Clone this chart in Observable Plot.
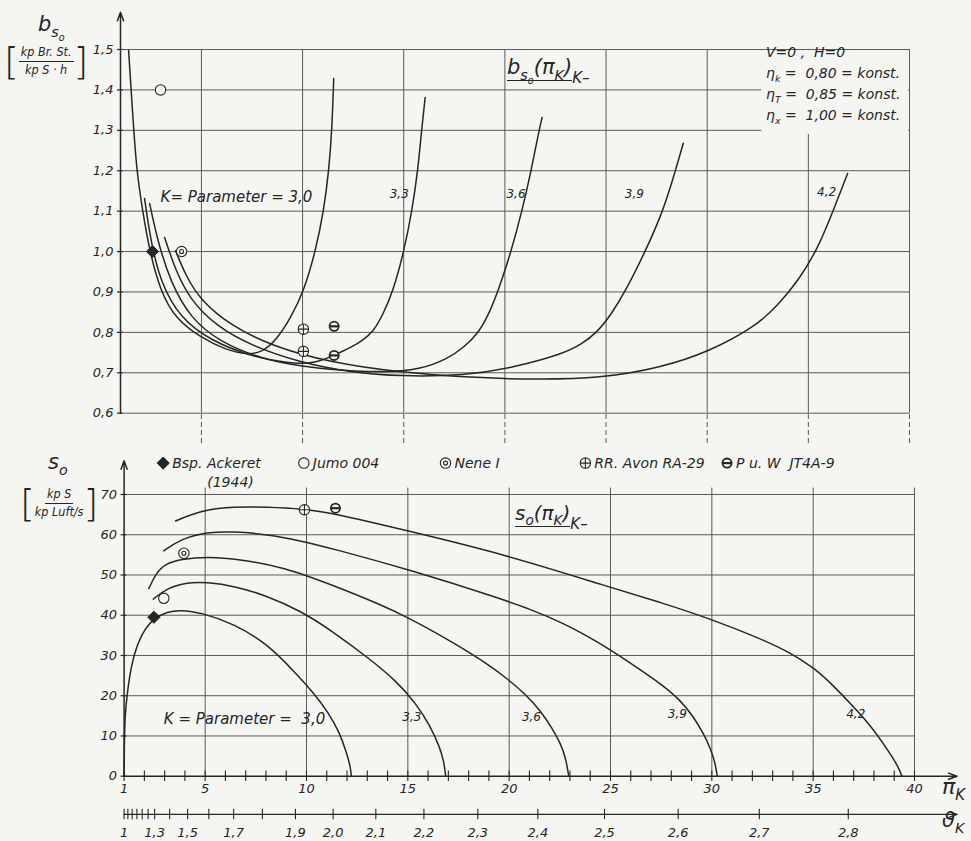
<!DOCTYPE html>
<html lang="de">
<head>
<meta charset="utf-8">
<title>b_so und S_o über π_K</title>
<script src="https://cdn.jsdelivr.net/npm/d3@7"></script>
<script src="https://cdn.jsdelivr.net/npm/@observablehq/plot@0.6"></script>
<style>
  html, body { margin:0; padding:0; background:#f5f5f2; }
  #wrap { position:relative; width:971px; height:841px; overflow:hidden;
          font-family:"DejaVu Sans","Liberation Sans",sans-serif; font-style:oblique; color:#262626; }
  #top, #bot { position:absolute; left:0; }
  #top { top:0; } #bot { top:450px; }
  .t { position:absolute; white-space:nowrap; line-height:1; }
  .t sub { font-size:68%; vertical-align:-0.4em; line-height:0; }
  .frac { display:flex; align-items:center; }
  .br { font-size:38px; font-weight:200; font-style:normal; }
  .fr { display:inline-flex; flex-direction:column; align-items:center; font-size:12.5px; font-stretch:condensed; }
  .fr .n { border-bottom:1.3px solid #262626; padding:0 2px 2px; }
  .fr .d { padding-top:2px; }
  .ul { border-bottom:1.3px solid #262626; padding-bottom:1px; }
  .blk div { height:21px; font-size:14px; }
</style>
</head>
<body>
<div id="wrap">
  <div id="top"></div>
  <div id="bot"></div>

  <div class="t" style="left:38px;top:14px;font-size:21px">b<sub>s<sub>o</sub></sub></div>
  <div class="t frac" style="left:4px;top:42px"><span class="br">[</span><span class="fr"><span class="n">kp Br. St.</span><span class="d">kp S · h</span></span><span class="br">]</span></div>

  <div class="t" style="left:48px;top:452px;font-size:21px">s<sub>o</sub></div>
  <div class="t frac" style="left:20px;top:484px"><span class="br">[</span><span class="fr"><span class="n">kp S</span><span class="d">kp Luft/s</span></span><span class="br">]</span></div>

  <div class="t" style="left:507px;top:57px;font-size:21px"><span class="ul">b<sub>s<sub>o</sub></sub>(π<sub>K</sub>)</span><span style="font-size:15px;position:relative;top:9px">K–</span></div>
  <div class="t" style="left:515px;top:503px;font-size:20px"><span class="ul">s<sub>o</sub>(π<sub>K</sub>)</span><span style="font-size:15px;position:relative;top:9px">K–</span></div>

  <div class="t blk" style="left:766px;top:45px">
    <div>V=0 ,&nbsp; H=0</div>
    <div>η<sub>k</sub> =&nbsp; 0,80 = konst.</div>
    <div>η<sub>T</sub> =&nbsp; 0,85 = konst.</div>
    <div>η<sub>x</sub> =&nbsp; 1,00 = konst.</div>
  </div>

  <div class="t" style="left:942px;top:776px;font-size:22px">π<sub>K</sub></div>
  <div class="t" style="left:942px;top:810px;font-size:21px">ϑ<sub>K</sub></div>
</div>

<script>
// ================= DATA =================
const kValues = [3.0, 3.3, 3.6, 3.9, 4.2];
const kLabels = ["3,0", "3,3", "3,6", "3,9", "4,2"];

// specific fuel consumption b_so [kp Br.St./(kp S·h)] over pressure ratio π_K, one list per K
const bs30 = [[1.40,1.498],[1.59,1.349],[1.79,1.201],[2.09,1.102],[2.44,1.000],[2.98,0.901],[3.72,0.834],[4.96,0.787],[6.20,0.757],[7.30,0.744],[8.03,0.752],[8.72,0.782],[9.42,0.837],[10.06,0.901],[10.65,1.003],[11.05,1.102],[11.30,1.201],[11.45,1.300],[11.54,1.428]];
const bs33 = [[2.19,1.131],[2.49,1.027],[2.98,0.923],[3.97,0.834],[5.46,0.780],[7.44,0.740],[9.42,0.722],[10.65,0.724],[11.54,0.743],[12.39,0.763],[12.93,0.779],[13.48,0.800],[13.97,0.844],[14.47,0.901],[15.01,1.000],[15.41,1.101],[15.70,1.201],[15.88,1.300],[16.06,1.381]];
const bs36 = [[2.44,1.119],[2.83,1.027],[3.48,0.923],[4.47,0.834],[5.95,0.775],[7.93,0.735],[9.91,0.716],[11.89,0.706],[13.87,0.701],[15.85,0.708],[17.17,0.735],[17.98,0.763],[18.72,0.800],[19.22,0.847],[19.66,0.901],[20.31,1.000],[20.85,1.101],[21.30,1.200],[21.69,1.300],[21.84,1.332]];
const bs39 = [[3.18,1.035],[3.72,0.953],[4.47,0.879],[5.70,0.817],[7.44,0.767],[9.91,0.725],[12.39,0.701],[14.86,0.691],[17.98,0.693],[20.46,0.713],[22.93,0.748],[23.77,0.770],[24.56,0.800],[25.26,0.845],[25.95,0.901],[26.94,1.000],[27.83,1.101],[28.43,1.200],[28.82,1.268]];
const bs42 = [[3.72,1.002],[4.22,0.941],[4.96,0.879],[6.45,0.817],[8.43,0.767],[11.40,0.725],[14.86,0.701],[17.98,0.689],[21.30,0.683],[24.76,0.686],[27.73,0.713],[30.04,0.751],[32.35,0.813],[33.48,0.866],[34.51,0.928],[35.50,1.010],[36.29,1.109],[36.94,1.193]];
const bsSeries = [bs30, bs33, bs36, bs39, bs42];

// specific thrust S_o [kp S/(kp Luft/s)] over π_K, one list per K
const so30 = [[1.0,0],[1.01,8],[1.05,15.5],[1.15,20.4],[1.35,27.5],[1.65,32.9],[2.06,36.9],[2.47,39.1],[3.13,40.9],[3.79,41.3],[4.78,40.7],[6.41,37.9],[8.06,32.9],[9.36,26.2],[10.34,20.8],[11.08,15.8],[11.63,10.9],[11.97,5.9],[12.17,2.4],[12.21,0]];
const so33 = [[2.44,44.0],[3.13,46.8],[4.11,48.2],[5.10,48.2],[6.41,47.3],[8.06,44.8],[9.70,41.1],[11.18,36.4],[13.16,29.0],[14.39,23.8],[15.38,18.3],[16.12,12.3],[16.56,7.4],[16.78,3.7],[16.87,0]];
const so36 = [[2.22,46.6],[2.55,50.3],[3.04,52.8],[3.78,53.9],[5.10,54.6],[6.74,53.9],[8.88,51.9],[11.18,47.7],[14.78,40.4],[17.74,31.7],[18.82,28.2],[19.90,24.3],[20.82,20.3],[21.54,16.3],[22.10,12.1],[22.54,8.1],[22.80,4.4],[22.94,0]];
const so39 = [[2.96,56.0],[3.78,58.9],[5.10,60.7],[6.41,60.8],[8.06,60.1],[9.70,58.5],[11.18,56.7],[15.29,51.0],[19.41,44.4],[21.05,41.5],[22.69,38.0],[24.01,34.4],[25.00,31.4],[26.48,26.4],[27.47,23.0],[28.45,18.9],[29.09,14.8],[29.60,10.5],[29.93,6.9],[30.15,3.6],[30.27,0]];
const so42 = [[3.54,63.4],[4.77,66.1],[6.41,67.0],[8.06,66.9],[9.87,66.4],[11.18,65.5],[14.97,61.0],[19.73,55.2],[25.00,46.9],[27.47,43.2],[29.93,39.1],[32.40,34.2],[33.88,30.7],[35.03,26.9],[35.69,24.1],[37.33,15.5],[37.92,11.9],[38.48,8.0],[38.91,4.7],[39.20,2.3],[39.38,0]];
const soSeries = [so30, so33, so36, so39, so42];

// engines (marker) data
const engines = ["Bsp. Ackeret", "Jumo 004", "Nene I", "RR. Avon RA-29", "P u. W  JT4A-9"];
const engineKeys = ["ack", "jumo", "nene", "avon", "pw"];
const engineYear = "(1944)";
const enginesTop = [["ack",2.58,1.000],["jumo",2.98,1.400],["nene",4.02,1.000],["avon",10.04,0.808],["avon",10.04,0.753],["pw",11.56,0.815],["pw",11.56,0.743]];
const enginesBot = [["ack",2.47,39.5],["jumo",2.96,44.2],["nene",3.95,55.4],["avon",9.90,66.2],["pw",11.43,66.6]];

// axes / ticks
const bTicks = [0.6,0.7,0.8,0.9,1.0,1.1,1.2,1.3,1.4,1.5];
const soTicks = [0,10,20,30,40,50,60,70];
const piGrid = [5,10,15,20,25,30,35,40];
const piLabels = [1,5,10,15,20,25,30,35,40];
const piMinor = d3.range(1, 41);
const thetaTicks = [1.0,1.05,1.1,1.15,1.2,1.25,1.3,1.4,1.5,1.6,1.7,1.8,1.9,2.0,2.1,2.2,2.3,2.4,2.5,2.6,2.7,2.8];
const thetaLabels = [1.0,1.3,1.5,1.7,1.9,2.0,2.1,2.2,2.3,2.4,2.5,2.6,2.7,2.8];
const kappaExp = 3.5;        // π_K = ϑ_K^(κ/(κ-1)), κ = 1,4

// ================= LAYOUT (positions of annotations) =================
const kParamText = "K= Parameter = 3,0";
const topKPos  = [[2.98,1.135],[14.78,1.143],[20.55,1.143],[26.4,1.143],[35.9,1.147]];
const botKPos  = [[2.96,14.2],[15.2,14.6],[21.1,14.6],[28.3,15.5],[37.1,15.5]];
const legendPi = [2.93, 9.87, 16.86, 23.76, 30.75];
const legendS = 77.8, yearS = 73.0, yearPi = 6.25;

// ================= STYLE =================
const INK = "#262626", GRIDC = "#5a5a5a", BG = "#f5f5f2";
const FONT = "'DejaVu Sans','Liberation Sans',sans-serif";
const dec1 = d => d.toFixed(1).replace(".", ",");
const decT = d => (d === 1 ? "1" : d.toFixed(1)).replace(".", ",");

const plusSym = {draw(ctx, size) { const r = Math.sqrt(size / Math.PI); ctx.moveTo(-r, 0); ctx.lineTo(r, 0); ctx.moveTo(0, -r); ctx.lineTo(0, r); }};
const barSym  = {draw(ctx, size) { const r = Math.sqrt(size / Math.PI); ctx.moveTo(-r, 0); ctx.lineTo(r, 0); }};

function markerMarks(rows) {
  const pick = k => rows.filter(d => d.key === k);
  const o = {x: "x", y: "y"};
  return [
    Plot.dot(pick("ack"),  {...o, symbol: "diamond2", r: 5.5, fill: INK, stroke: INK, strokeWidth: 1}),
    Plot.dot(pick("jumo"), {...o, r: 5.2, fill: BG, stroke: INK, strokeWidth: 1.1}),
    Plot.dot(pick("nene"), {...o, r: 5.2, fill: BG, stroke: INK, strokeWidth: 1.1}),
    Plot.dot(pick("nene"), {...o, r: 2.0, fill: "none", stroke: INK, strokeWidth: 1.1}),
    Plot.dot(pick("avon"), {...o, r: 5.2, fill: BG, stroke: INK, strokeWidth: 1.1}),
    Plot.dot(pick("avon"), {...o, r: 5.2, symbol: plusSym, fill: "none", stroke: INK, strokeWidth: 1.1}),
    Plot.dot(pick("pw"),   {...o, r: 4.6, fill: BG, stroke: INK, strokeWidth: 1.8}),
    Plot.dot(pick("pw"),   {...o, r: 4.6, symbol: barSym, fill: "none", stroke: INK, strokeWidth: 2.2})
  ];
}

const curveRows = series => series.flatMap((pts, i) => pts.map(([x, y]) => ({k: kValues[i], x, y})));
const styleObj = {background: "transparent", fontFamily: FONT, fontStyle: "oblique", fontSize: "13px", color: INK, overflow: "visible"};

// ================= TOP PLOT =================
const topPlot = Plot.plot({
  width: 971, height: 450,
  marginLeft: 120, marginRight: 62, marginTop: 49, marginBottom: 37.3,
  x: {domain: [1, 40], axis: null},
  y: {domain: [0.6, 1.5], axis: null},
  style: styleObj,
  marks: [
    Plot.ruleY(bTicks, {x1: 1, x2: 40, stroke: GRIDC, strokeWidth: 1}),
    Plot.ruleX(piGrid, {y1: 0.6, y2: 1.5, stroke: GRIDC, strokeWidth: 1}),
    Plot.ruleX(piGrid, {y1: 0.525, y2: 0.6, stroke: GRIDC, strokeWidth: 1, strokeDasharray: "5,3"}),
    // annotation box (keeps grid free behind the constants)
    Plot.rect([0], {x1: 32.7, x2: 39.95, y1: 1.29, y2: 1.497, fill: BG}),
    Plot.ruleY([1.5], {x1: 1, x2: 40, stroke: GRIDC}),
    Plot.ruleX([40], {y1: 0.6, y2: 1.5, stroke: GRIDC}),
    Plot.ruleY(bTicks, {x1: 0.85, x2: 1.13, stroke: INK, strokeWidth: 1.2}),
    Plot.axisY({ticks: bTicks, tickSize: 0, tickPadding: 7, tickFormat: dec1, fontSize: 13, label: null}),
    Plot.arrow([0], {x1: 1, y1: 0.6, x2: 1, y2: 1.592, stroke: INK, strokeWidth: 1.5, headLength: 9, headAngle: 40}),
    Plot.line(curveRows(bsSeries), {x: "x", y: "y", z: "k", curve: "basis", stroke: INK, strokeWidth: 1.5}),
    ...markerMarks(enginesTop.map(([key, x, y]) => ({key, x, y}))),
    Plot.text([kParamText], {x: topKPos[0][0], y: topKPos[0][1], text: d => d, textAnchor: "start", fontSize: 15, fontStyle: "oblique", fill: INK}),
    Plot.text(kLabels.slice(1), {x: (d, i) => topKPos[i + 1][0], y: (d, i) => topKPos[i + 1][1], text: d => d, fontSize: 12, fontStyle: "oblique", fill: INK})
  ]
});
document.getElementById("top").append(topPlot);

// ================= BOTTOM PLOT =================
const theta = d => Math.pow(d, kappaExp);
const botPlot = Plot.plot({
  width: 971, height: 391,
  marginLeft: 123.6, marginRight: 57, marginTop: 44, marginBottom: 65.3,
  x: {domain: [1, 40]},
  y: {domain: [0, 70], axis: null},
  style: styleObj,
  marks: [
    Plot.ruleY(soTicks.slice(1), {x1: 1, x2: 40, stroke: GRIDC, strokeWidth: 1}),
    Plot.ruleX(piGrid, {y1: 0, y2: 71.6, stroke: GRIDC, strokeWidth: 1}),
    Plot.ruleY(soTicks, {x1: 0.85, x2: 1.13, stroke: INK, strokeWidth: 1.2}),
    Plot.axisY({ticks: soTicks, tickSize: 0, tickPadding: 7, tickFormat: d => d, fontSize: 13, label: null}),
    Plot.axisX({ticks: piLabels, tickSize: 0, tickPadding: 8, tickFormat: d => d, fontSize: 13, label: null}),
    Plot.ruleX(piMinor, {y1: -1.3, y2: 1.3, stroke: INK, strokeWidth: 1.1}),
    Plot.arrow([0], {x1: 1, y1: 0, x2: 42.1, y2: 0, stroke: INK, strokeWidth: 1.5, headLength: 9, headAngle: 40}),
    Plot.arrow([0], {x1: 1, y1: 0, x2: 1, y2: 78.4, stroke: INK, strokeWidth: 1.5, headLength: 9, headAngle: 40}),
    // ϑ_K scale
    Plot.arrow([0], {x1: 1, y1: -9.5, x2: 42.1, y2: -9.5, stroke: INK, strokeWidth: 1.3, headLength: 9, headAngle: 40}),
    Plot.ruleX(thetaTicks, {x: theta, y1: -10.8, y2: -8.2, stroke: INK, strokeWidth: 1.1}),
    Plot.text(thetaLabels, {x: theta, y: -14, text: decT, fontSize: 13, fontStyle: "oblique", fill: INK}),
    Plot.line(curveRows(soSeries), {x: "x", y: "y", z: "k", curve: "basis", stroke: INK, strokeWidth: 1.5}),
    ...markerMarks(enginesBot.map(([key, x, y]) => ({key, x, y}))),
    Plot.text([kParamText.replace("K= Parameter = ", "K = Parameter =  ")], {x: botKPos[0][0], y: botKPos[0][1], text: d => d, textAnchor: "start", fontSize: 15, fontStyle: "oblique", fill: INK}),
    Plot.text(kLabels.slice(1), {x: (d, i) => botKPos[i + 1][0], y: (d, i) => botKPos[i + 1][1], text: d => d, fontSize: 12, fontStyle: "oblique", fill: INK}),
    // legend
    ...markerMarks(engineKeys.map((key, i) => ({key, x: legendPi[i], y: legendS}))),
    Plot.text(engines, {x: (d, i) => legendPi[i], y: legendS, text: d => d, dx: 9, textAnchor: "start", fontSize: 14, fontStyle: "oblique", fill: INK}),
    Plot.text([engineYear], {x: yearPi, y: yearS, text: d => d, fontSize: 14, fontStyle: "oblique", fill: INK})
  ]
});
document.getElementById("bot").append(botPlot);
</script>
</body>
</html>
